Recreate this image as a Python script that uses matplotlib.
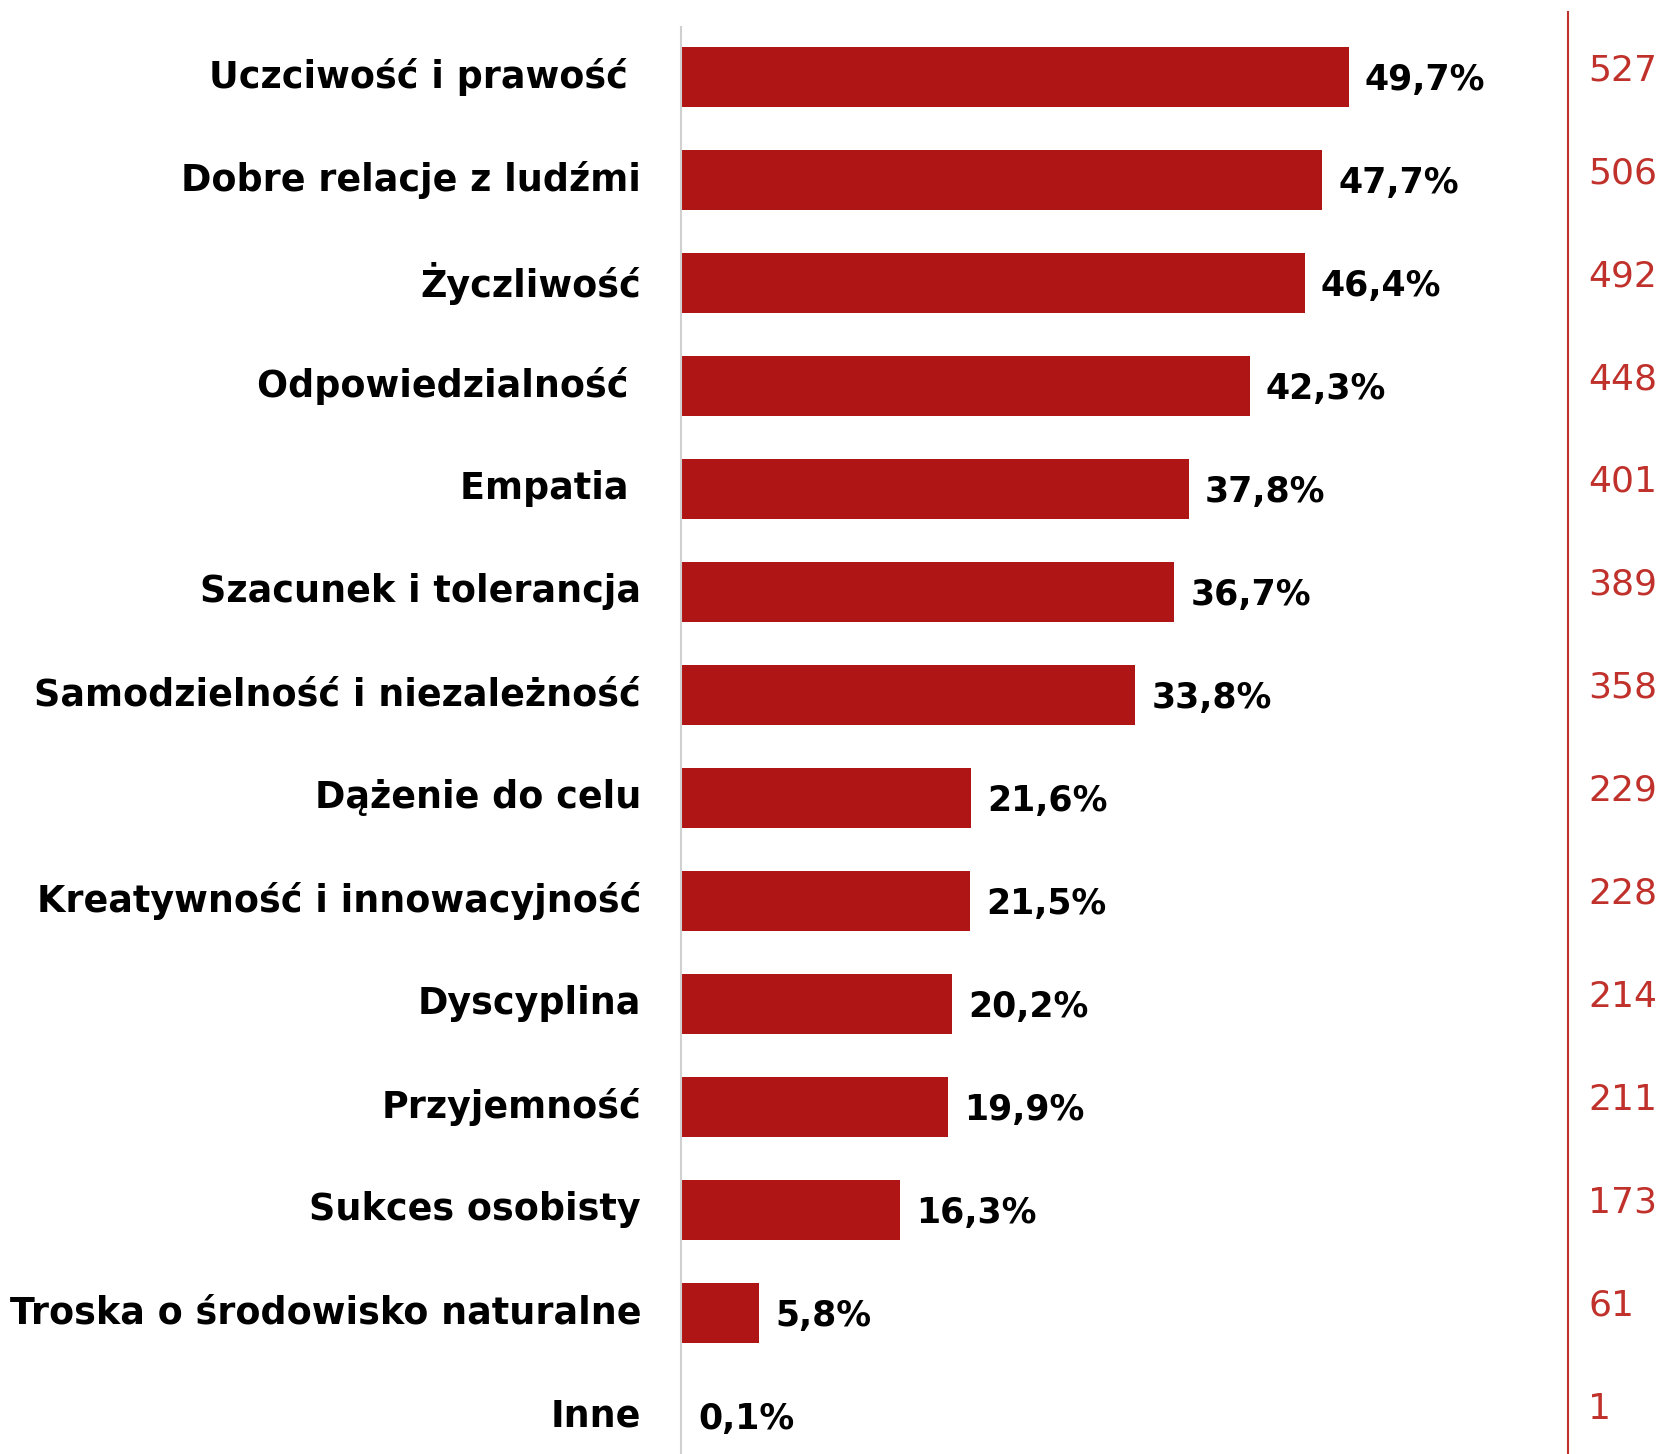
import matplotlib.pyplot as plt

labels = [
    'Uczciwość i prawość ',
    'Dobre relacje z ludźmi',
    'Życzliwość',
    'Odpowiedzialność ',
    'Empatia ',
    'Szacunek i tolerancja',
    'Samodzielność i niezależność',
    'Dążenie do celu',
    'Kreatywność i innowacyjność',
    'Dyscyplina',
    'Przyjemność',
    'Sukces osobisty',
    'Troska o środowisko naturalne',
    'Inne',
]
percents = [49.7, 47.7, 46.4, 42.3, 37.8, 36.7, 33.8, 21.6, 21.5, 20.2, 19.9, 16.3, 5.8, 0.1]
counts = [527, 506, 492, 448, 401, 389, 358, 229, 228, 214, 211, 173, 61, 1]

BAR_COLOR = '#B01515'
COUNT_COLOR = '#C0312B'
W, H = 1663, 1454


def main() -> None:
    plt.rcParams['font.family'] = ['DejaVu Sans']
    fig = plt.figure(figsize=(W / 100, H / 100), dpi=100)
    ax = fig.add_axes([681 / W, 0, 1 - 681 / W, 1])

    ys = list(range(len(labels)))
    ax.barh(ys, percents, height=0.58, color=BAR_COLOR)
    ax.set_xlim(0, (W - 681) / 13.44)
    ax.set_ylim(13.37, -0.748)
    ax.axis('off')

    # left grey axis and red separator line
    ax.plot([0, 0], [-0.485, 13.37], color='#D0D0D0', lw=1.5, clip_on=False)
    ax.plot([66.0, 66.0], [-0.63, 13.37], color=COUNT_COLOR, lw=1.5, clip_on=False)

    for y, lab, p, n in zip(ys, labels, percents, counts):
        ax.annotate(lab, (0, y), xytext=(-40, 0), textcoords='offset pixels',
                    ha='right', va='center', fontsize=26.3, fontweight='bold')
        ax.annotate(f'{p:.1f}%'.replace('.', ','), (p, y), xytext=(16, -3),
                    textcoords='offset pixels', ha='left', va='center',
                    fontsize=25, fontweight='bold')
        ax.annotate(str(n), (66.0, y), xytext=(20, 7), textcoords='offset pixels',
                    ha='left', va='center', fontsize=26, color=COUNT_COLOR)

    fig.savefig('out.png', dpi=100)


if __name__ == '__main__':
    main()
